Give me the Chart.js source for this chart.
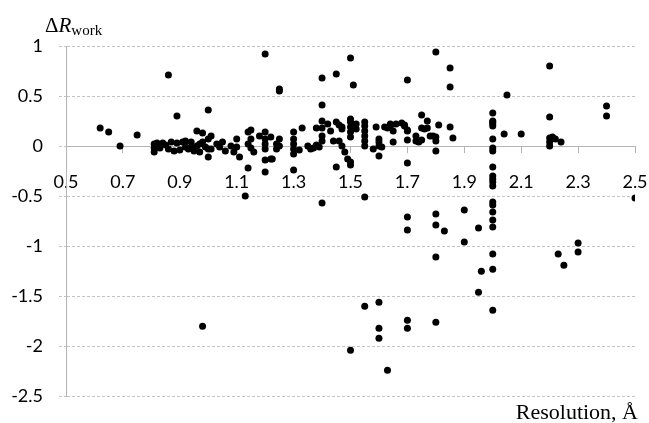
<!DOCTYPE html>
<html>
<head>
<meta charset="utf-8">
<script src="https://cdn.jsdelivr.net/npm/chart.js@4"></script>
<style>
  html, body { margin: 0; padding: 0; background: #ffffff; }
  #wrap { position: relative; width: 649px; height: 423px; }
  #c { position: absolute; left: 0; top: 0; }
  .ttl { position: absolute; font-family: "Liberation Serif", "DejaVu Serif", serif; color: #000; white-space: nowrap; line-height: 1; }
  #ytitle { left: 45px; top: 15px; font-size: 21px; }
  #ytitle i { font-style: italic; }
  #ytitle sub { font-size: 15px; vertical-align: -3px; line-height: 1; }
  #xtitle { right: 11px; top: 401px; font-size: 22px; }
</style>
</head>
<body>
<div id="wrap">
  <canvas id="c" width="649" height="423"></canvas>
  <div class="ttl" id="ytitle">Δ<i>R</i><sub>work</sub></div>
  <div class="ttl" id="xtitle">Resolution, Å</div>
</div>
<script>
// ---- data ----
const resolution = [
  0.62, 0.65, 0.69, 0.75, 0.86, 0.89, 1.00, 0.96, 0.98, 1.00,
  0.81, 0.81, 0.81, 0.82, 0.83, 0.84, 0.85, 0.86, 0.87, 0.88,
  0.89, 0.90, 0.91, 0.92, 0.92, 0.93, 0.94, 0.94, 0.95, 0.96,
  0.97, 0.97, 0.98, 0.99, 1.00, 1.00, 1.01, 1.01, 1.03, 1.04,
  1.05, 1.06, 1.08, 1.09, 1.10, 1.10, 1.11, 1.14, 1.14, 1.14,
  1.15, 1.15, 1.15, 1.16, 1.18, 1.20, 1.20, 1.20, 1.20, 1.20,
  1.20, 1.22, 1.22, 1.225, 1.24, 1.24, 1.25, 1.25, 1.30, 1.30,
  1.30, 1.30, 1.30, 1.30, 1.32, 1.33, 1.35, 1.36, 1.37, 1.38,
  1.38, 1.39,
  1.40, 1.40, 1.40, 1.40, 1.40, 1.42, 1.43, 1.44, 1.45, 1.46,
  1.47, 1.47, 1.46, 1.45, 1.47, 1.48, 1.49, 1.50, 1.50, 1.50,
  1.50, 1.50, 1.50, 1.50, 1.52, 1.52, 1.55, 1.55, 1.55, 1.55,
  1.55, 1.55, 1.58, 1.59, 1.60, 1.60, 1.60, 1.61, 1.60,
  1.62, 1.63, 1.64, 1.64, 1.65, 1.65, 1.66, 1.68, 1.69, 1.69,
  1.70, 1.70, 1.70, 1.70, 1.73, 1.73, 1.74, 1.75, 1.75, 1.75,
  1.76, 1.77, 1.77, 1.78, 1.79, 1.80, 1.80, 1.80, 1.81, 1.85,
  1.86,
  2.00, 2.00, 2.00, 2.00, 2.00, 2.00, 2.00, 2.00, 2.00, 2.00,
  2.00, 2.00, 2.00, 2.00, 2.00, 2.00, 2.00, 2.00, 2.00, 2.00,
  2.00,
  2.04, 2.05, 2.10,
  2.20, 2.20, 2.20, 2.20, 2.20, 2.21, 2.22, 2.24,
  2.40, 2.40, 2.50,
  1.20, 1.25, 1.25, 1.40, 1.45, 1.50, 1.51, 1.70, 1.80, 1.85,
  1.85,
  0.98, 1.13, 1.40, 1.55, 1.70, 1.70, 1.80, 1.80, 1.83, 1.90,
  1.90, 1.95, 1.96, 1.95, 1.80, 1.70, 1.70, 1.80, 2.23, 2.25,
  2.30, 2.30, 1.55, 1.60, 1.60, 1.60, 1.50, 1.63
];
const deltaRwork = [
  0.18, 0.14, 0.00, 0.11, 0.71, 0.30, 0.36, 0.15, 0.13, -0.11,
  0.02, -0.06, -0.02, 0.03, -0.02, 0.03, 0.01, -0.03, 0.04, -0.05,
  0.03, -0.04, 0.04, -0.01, 0.05, -0.03, -0.01, 0.04, -0.05, 0.00,
  -0.06, 0.02, 0.04, -0.01, 0.07, -0.03, 0.10, -0.03, 0.02, -0.01,
  0.04, -0.05, 0.00, -0.06, 0.07, -0.01, -0.11, 0.14, 0.02, -0.22,
  0.16, 0.07, -0.02, -0.06, 0.10, 0.14, 0.07, 0.02, -0.03, -0.14,
  -0.26, -0.13, 0.09, -0.13, 0.02, -0.03, 0.07, 0.00, 0.14, 0.07,
  0.02, -0.03, -0.08, -0.24, -0.04, 0.18, 0.00, -0.03, -0.02, 0.01,
  0.18, -0.01,
  0.41, 0.25, 0.18, 0.10, 0.05, 0.22, 0.15, 0.05, 0.24, 0.21,
  0.19, 0.17, 0.05, -0.21, 0.00, -0.06, -0.13, -0.16, 0.27, 0.24,
  0.19, 0.14, 0.09, -0.19, 0.22, 0.17, 0.24, 0.20, 0.15, 0.10,
  0.05, 0.00, -0.03, 0.19, 0.07, 0.04, 0.00, -0.01, -0.10,
  0.19, 0.18, 0.20, 0.22, 0.15, 0.04, 0.22, 0.23, 0.21, 0.20,
  0.16, 0.15, 0.06, -0.17, 0.10, 0.05, 0.04, 0.06, 0.31, 0.18,
  0.17, 0.25, 0.18, 0.10, 0.10, 0.09, 0.05, -0.05, 0.21, 0.19,
  0.08,
  0.33, 0.25, 0.24, 0.22, 0.20, 0.07, -0.02, -0.05, -0.21, -0.30,
  -0.33, -0.36, -0.40, -0.56, -0.59, -0.66, -0.74, -0.81, -1.08, -1.23,
  -1.64,
  0.12, 0.51, 0.12,
  0.80, 0.29, 0.08, 0.04, 0.00, 0.09, 0.07, 0.04,
  0.40, 0.30, -0.52,
  0.92, 0.57, 0.55, 0.68, 0.72, 0.88, 0.61, 0.66, 0.94, 0.78,
  0.59,
  -1.80, -0.50, -0.57, -0.51, -0.71, -0.84, -0.68, -0.79, -0.85, -0.64,
  -0.96, -0.82, -1.25, -1.46, -1.11, -1.74, -1.82, -1.76, -1.08, -1.19,
  -0.97, -1.06, -1.60, -1.56, -1.82, -1.92, -2.04, -2.24
];
const xTicks = [0.5, 0.7, 0.9, 1.1, 1.3, 1.5, 1.7, 1.9, 2.1, 2.3, 2.5];
const yTicks = [-2.5, -2, -1.5, -1, -0.5, 0, 0.5, 1];

const points = resolution.map((x, i) => ({ x: x, y: deltaRwork[i] }));
const tickFont = { family: "Lato, 'Open Sans', sans-serif", size: 18 };
const axisGray = '#b4b4b4';

new Chart(document.getElementById('c'), {
  type: 'scatter',
  data: {
    datasets: [{
      data: points,
      pointRadius: 3.5,
      pointHoverRadius: 3.5,
      pointBackgroundColor: '#000000',
      pointBorderColor: '#000000',
      pointBorderWidth: 0
    }]
  },
  options: {
    responsive: false,
    animation: false,
    events: [],
    layout: { padding: { top: 46, right: 14, bottom: 24, left: 0 } },
    plugins: { legend: { display: false }, tooltip: { enabled: false } },
    scales: {
      x: {
        type: 'linear',
        position: { y: 0 },
        min: 0.5,
        max: 2.5,
        afterBuildTicks: s => { s.ticks = xTicks.map(v => ({ value: v })); },
        afterFit: s => { s.paddingLeft = 0; s.paddingRight = 0; },
        ticks: {
          color: '#000000',
          font: tickFont,
          padding: 19,
          maxRotation: 0,
          autoSkip: false,
          callback: v => String(v)
        },
        grid: {
          drawOnChartArea: false,
          drawTicks: true,
          tickLength: 6,
          tickColor: axisGray,
          tickWidth: 1
        },
        border: { display: true, color: axisGray, width: 1 }
      },
      y: {
        type: 'linear',
        position: 'left',
        min: -2.5,
        max: 1,
        afterBuildTicks: s => { s.ticks = yTicks.map(v => ({ value: v })); },
        afterFit: s => { s.width = 66; },
        ticks: {
          color: '#000000',
          font: tickFont,
          padding: 16,
          callback: v => String(v)
        },
        grid: {
          color: '#c4c4c4',
          lineWidth: 1,
          drawTicks: true,
          tickLength: 7,
          tickColor: '#c4c4c4',
          tickBorderDash: [3, 2]
        },
        border: { display: true, color: axisGray, width: 1, dash: [3, 2] }
      }
    }
  }
});
</script>
</body>
</html>
